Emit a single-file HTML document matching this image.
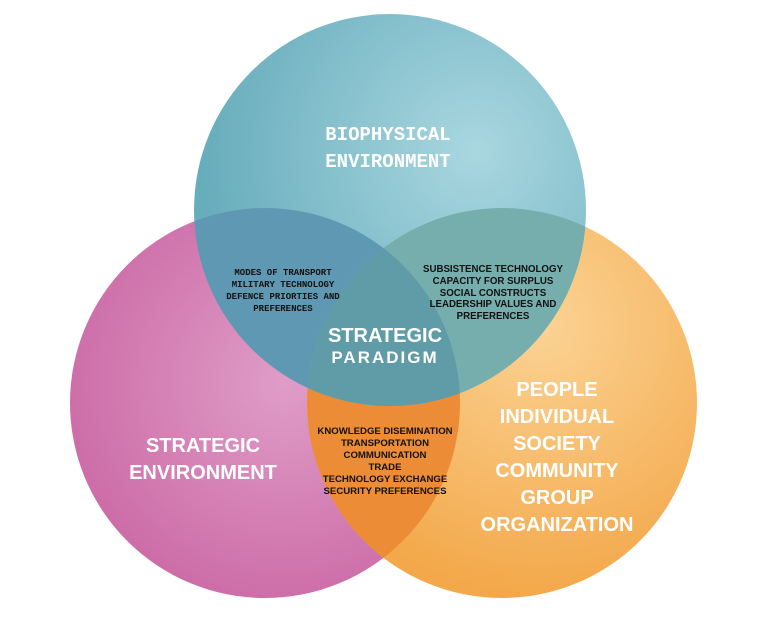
<!DOCTYPE html>
<html><head><meta charset="utf-8"><style>
html,body{margin:0;padding:0;background:#fff;}
svg{display:block}
.m{font-family:"Liberation Mono",monospace;font-weight:bold}
.s{font-family:"Liberation Sans",sans-serif;font-weight:bold}
</style></head><body>
<svg width="765" height="632" viewBox="0 0 765 632" xmlns="http://www.w3.org/2000/svg">
<defs>
<radialGradient id="gt" cx="0.72" cy="0.35" r="0.7"><stop offset="0" stop-color="#a9d7e0"/><stop offset="1" stop-color="#68adbc"/></radialGradient>
<radialGradient id="gp" cx="0.55" cy="0.45" r="0.6"><stop offset="0" stop-color="#df9dc8"/><stop offset="1" stop-color="#cc6aa6"/></radialGradient>
<radialGradient id="go" cx="0.6" cy="0.3" r="0.7"><stop offset="0" stop-color="#fbd394"/><stop offset="1" stop-color="#f3a84a"/></radialGradient>
<clipPath id="cp"><circle cx="265" cy="403" r="195"/></clipPath>
<clipPath id="co"><circle cx="502" cy="403" r="195"/></clipPath>
<clipPath id="ct"><circle cx="390" cy="210" r="196"/></clipPath>
</defs>
<circle cx="265" cy="403" r="195" fill="url(#gp)"/>
<circle cx="502" cy="403" r="195" fill="url(#go)"/>
<circle cx="502" cy="403" r="195" fill="#ec8c36" clip-path="url(#cp)"/>
<circle cx="390" cy="210" r="196" fill="url(#gt)"/>
<circle cx="265" cy="403" r="195" fill="#5f98b2" clip-path="url(#ct)"/>
<circle cx="502" cy="403" r="195" fill="#76aeae" clip-path="url(#ct)"/>
<g clip-path="url(#ct)"><circle cx="502" cy="403" r="195" fill="#5f9ca8" clip-path="url(#cp)"/></g>

<g fill="#fff" class="m" font-size="19" text-anchor="middle">
<text x="388" y="140">BIOPHYSICAL</text>
<text x="388" y="167">ENVIRONMENT</text>
</g>
<g fill="#111" class="m" font-size="9" text-anchor="middle">
<text x="283" y="275">MODES OF TRANSPORT</text>
<text x="283" y="287">MILITARY TECHNOLOGY</text>
<text x="283" y="299">DEFENCE PRIORTIES AND</text>
<text x="283" y="311">PREFERENCES</text>
</g>
<g fill="#111" class="s" font-size="9.7" text-anchor="middle">
<text x="493" y="272">SUBSISTENCE TECHNOLOGY</text>
<text x="493" y="284">CAPACITY FOR SURPLUS</text>
<text x="493" y="296">SOCIAL CONSTRUCTS</text>
<text x="493" y="307">LEADERSHIP VALUES AND</text>
<text x="493" y="319">PREFERENCES</text>
</g>
<g fill="#111" class="s" font-size="9.6" text-anchor="middle">
<text x="385" y="434">KNOWLEDGE DISEMINATION</text>
<text x="385" y="446">TRANSPORTATION</text>
<text x="385" y="458">COMMUNICATION</text>
<text x="385" y="470">TRADE</text>
<text x="385" y="482">TECHNOLOGY EXCHANGE</text>
<text x="385" y="494">SECURITY PREFERENCES</text>
</g>
<g fill="#fff" class="s" text-anchor="middle">
<text x="385" y="342" font-size="20">STRATEGIC</text>
<text x="385" y="363" font-size="17" letter-spacing="2">PARADIGM</text>
<text x="203" y="452" font-size="20">STRATEGIC</text>
<text x="203" y="479" font-size="20">ENVIRONMENT</text>
<text x="557" y="396" font-size="20">PEOPLE</text>
<text x="557" y="423" font-size="20">INDIVIDUAL</text>
<text x="557" y="450" font-size="20">SOCIETY</text>
<text x="557" y="477" font-size="20">COMMUNITY</text>
<text x="557" y="504" font-size="20">GROUP</text>
<text x="557" y="531" font-size="20">ORGANIZATION</text>
</g>
</svg>
</body></html>
